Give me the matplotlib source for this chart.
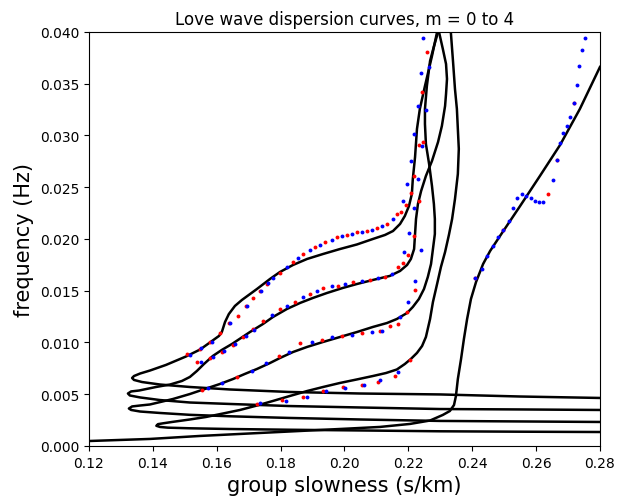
import matplotlib
matplotlib.use("Agg")
import matplotlib.pyplot as plt
import numpy as np

# Curvas de dispersion (lentitud de grupo s/km, frecuencia Hz), modos m = 0..4
s0 = [0.1200, 0.1391, 0.1548, 0.1704, 0.1861, 0.2017, 0.2111, 0.2205, 0.2268, 0.2308,
      0.2330, 0.2343, 0.2349, 0.2355, 0.2365, 0.2374, 0.2384, 0.2396, 0.2412, 0.2434,
      0.2456, 0.2487, 0.2550, 0.2612, 0.2675, 0.2737, 0.2800]
f0 = [0.00048, 0.00068, 0.00097, 0.00121, 0.00145, 0.00169, 0.00184, 0.00213, 0.00246, 0.00300,
      0.00338, 0.00396, 0.00483, 0.00647, 0.00840, 0.01034, 0.01227, 0.01420, 0.01585, 0.01758,
      0.01884, 0.02029, 0.02319, 0.02609, 0.02908, 0.03256, 0.03662]

s1 = [0.2800, 0.2550, 0.2299, 0.2049, 0.1826, 0.1641, 0.1516, 0.1447, 0.1422, 0.1411,
      0.1416, 0.1432, 0.1460, 0.1516, 0.1566, 0.1620, 0.1673, 0.1726, 0.1776, 0.1829,
      0.1883, 0.1933, 0.1986, 0.2039, 0.2089, 0.2130, 0.2164, 0.2189, 0.2208, 0.2227,
      0.2243, 0.2255, 0.2268, 0.2277, 0.2290, 0.2302, 0.2315, 0.2327, 0.2337, 0.2346,
      0.2355, 0.2358, 0.2355, 0.2352, 0.2346, 0.2340, 0.2333, 0.2330]
f1 = [0.00135, 0.00138, 0.00142, 0.00150, 0.00157, 0.00164, 0.00171, 0.00177, 0.00184, 0.00195,
      0.00211, 0.00219, 0.00232, 0.00256, 0.00280, 0.00314, 0.00348, 0.00391, 0.00435, 0.00483,
      0.00531, 0.00570, 0.00609, 0.00643, 0.00676, 0.00705, 0.00739, 0.00792, 0.00841, 0.00899,
      0.00966, 0.01053, 0.01227, 0.01391, 0.01565, 0.01729, 0.01874, 0.02039, 0.02193, 0.02386,
      0.02628, 0.02870, 0.03063, 0.03256, 0.03449, 0.03710, 0.04000, 0.04126]

s2 = [0.2800, 0.2550, 0.2299, 0.2049, 0.1826, 0.1641, 0.1516, 0.1422, 0.1360, 0.1332,
      0.1325, 0.1335, 0.1360, 0.1391, 0.1463, 0.1516, 0.1563, 0.1610, 0.1651, 0.1688,
      0.1726, 0.1767, 0.1798, 0.1839, 0.1883, 0.1933, 0.1986, 0.2039, 0.2089, 0.2133,
      0.2164, 0.2196, 0.2214, 0.2233, 0.2249, 0.2261, 0.2271, 0.2277, 0.2283, 0.2283,
      0.2280, 0.2274, 0.2265, 0.2255, 0.2252, 0.2252, 0.2258, 0.2268, 0.2280, 0.2293, 0.2299]
f2 = [0.00232, 0.00237, 0.00242, 0.00256, 0.00271, 0.00287, 0.00301, 0.00319, 0.00333, 0.00348,
      0.00362, 0.00382, 0.00391, 0.00401, 0.00454, 0.00502, 0.00551, 0.00599, 0.00647, 0.00696,
      0.00744, 0.00802, 0.00850, 0.00908, 0.00957, 0.01005, 0.01053, 0.01101, 0.01150, 0.01188,
      0.01227, 0.01285, 0.01343, 0.01420, 0.01517, 0.01633, 0.01758, 0.01903, 0.02048, 0.02193,
      0.02338, 0.02512, 0.02725, 0.02918, 0.03111, 0.03256, 0.03478, 0.03720, 0.03860, 0.04000, 0.04126]

s3 = [0.2800, 0.2550, 0.2299, 0.2049, 0.1826, 0.1641, 0.1516, 0.1422, 0.1360, 0.1328,
      0.1322, 0.1332, 0.1357, 0.1410, 0.1454, 0.1491, 0.1516, 0.1538, 0.1560, 0.1588,
      0.1616, 0.1648, 0.1704, 0.1745, 0.1776, 0.1820, 0.1861, 0.1901, 0.1945, 0.1995,
      0.2039, 0.2089, 0.2142, 0.2174, 0.2196, 0.2208, 0.2218, 0.2221, 0.2224, 0.2230,
      0.2240, 0.2255, 0.2274, 0.2293, 0.2305, 0.2315, 0.2318, 0.2321, 0.2318, 0.2308,
      0.2296, 0.2287]
f3 = [0.00348, 0.00353, 0.00357, 0.00372, 0.00386, 0.00406, 0.00420, 0.00444, 0.00469, 0.00488,
      0.00507, 0.00527, 0.00536, 0.00570, 0.00594, 0.00628, 0.00667, 0.00725, 0.00792, 0.00870,
      0.00928, 0.00986, 0.01101, 0.01179, 0.01246, 0.01324, 0.01382, 0.01430, 0.01478, 0.01527,
      0.01565, 0.01604, 0.01643, 0.01691, 0.01749, 0.01807, 0.01903, 0.02048, 0.02193, 0.02338,
      0.02464, 0.02609, 0.02754, 0.02937, 0.03092, 0.03285, 0.03401, 0.03546, 0.03691, 0.03836,
      0.04000, 0.04126]

s4 = [0.2800, 0.2550, 0.2299, 0.2049, 0.1826, 0.1641, 0.1516, 0.1422, 0.1366, 0.1341,
      0.1335, 0.1341, 0.1360, 0.1391, 0.1441, 0.1504, 0.1548, 0.1585, 0.1607, 0.1616,
      0.1626, 0.1638, 0.1657, 0.1679, 0.1726, 0.1767, 0.1798, 0.1839, 0.1883, 0.1933,
      0.1986, 0.2039, 0.2089, 0.2127, 0.2152, 0.2174, 0.2189, 0.2202, 0.2211, 0.2214,
      0.2221, 0.2227, 0.2236, 0.2252, 0.2274, 0.2290, 0.2299]
f4 = [0.00464, 0.00478, 0.00498, 0.00507, 0.00522, 0.00546, 0.00570, 0.00594, 0.00618, 0.00638,
      0.00657, 0.00676, 0.00700, 0.00729, 0.00783, 0.00865, 0.00932, 0.01014, 0.01063, 0.01101,
      0.01198, 0.01275, 0.01353, 0.01411, 0.01517, 0.01614, 0.01681, 0.01749, 0.01807, 0.01855,
      0.01903, 0.01947, 0.02000, 0.02039, 0.02077, 0.02145, 0.02222, 0.02319, 0.02435, 0.02580,
      0.02792, 0.03063, 0.03256, 0.03478, 0.03768, 0.04000, 0.04126]

# Observaciones (puntos rojos y azules)
red_s = [0.1507, 0.1548, 0.1579, 0.1610, 0.1638, 0.1667, 0.1692, 0.1713, 0.1735, 0.1757,
         0.1798, 0.1839, 0.1870, 0.1908, 0.1939, 0.1977, 0.2008, 0.2039, 0.2070, 0.2102,
         0.2133, 0.2164,
         0.2177, 0.2193, 0.2208, 0.2233, 0.2218, 0.2233, 0.2246, 0.2243, 0.2258,
         0.1538, 0.1579, 0.1616, 0.1651, 0.1682, 0.1713, 0.1745, 0.1798, 0.1845, 0.1892,
         0.1933, 0.1980, 0.2027, 0.2080, 0.2127, 0.2168, 0.2183, 0.2199, 0.2218,
         0.1554, 0.1663, 0.1795, 0.1861, 0.1930, 0.1992, 0.2055, 0.2111, 0.2142, 0.2168,
         0.2196, 0.2221,
         0.1726, 0.1804, 0.1870, 0.1933, 0.1995, 0.2055, 0.2105, 0.2158, 0.2205,
         0.2719, 0.2665, 0.2637, 0.2496, 0.2409]
red_f = [0.00889, 0.00937, 0.01005, 0.01092, 0.01188, 0.01256, 0.01353, 0.01430, 0.01498, 0.01565,
         0.01671, 0.01778, 0.01855, 0.01923, 0.01971, 0.02019, 0.02039, 0.02068, 0.02077, 0.02106,
         0.02145, 0.02242,
         0.02261, 0.02328, 0.02444, 0.02367, 0.02609, 0.02908, 0.02937, 0.03420, 0.03807,
         0.00812, 0.00850, 0.00908, 0.00976, 0.01053, 0.01130, 0.01208, 0.01324, 0.01391, 0.01469,
         0.01527, 0.01546, 0.01585, 0.01604, 0.01633, 0.01729, 0.01768, 0.01845, 0.02029,
         0.00541, 0.00667, 0.00870, 0.00995, 0.01024, 0.01063, 0.01092, 0.01111, 0.01159, 0.01179,
         0.01295, 0.01507,
         0.00406, 0.00444, 0.00473, 0.00531, 0.00570, 0.00589, 0.00618, 0.00676, 0.00831,
         0.03314, 0.02763, 0.02435, 0.02087, 0.01623]

blue_s = [0.1516, 0.1551, 0.1585, 0.1641, 0.1695, 0.1739, 0.1760, 0.1776, 0.1820, 0.1854,
          0.1892, 0.1923, 0.1961, 0.1992, 0.2023, 0.2055, 0.2086, 0.2117, 0.2152,
          0.2183, 0.2218, 0.2196, 0.2230, 0.2208, 0.2243, 0.2218, 0.2255, 0.2230, 0.2240,
          0.2265, 0.2246,
          0.1551, 0.1588, 0.1623, 0.1657, 0.1692, 0.1717, 0.1773, 0.1820, 0.1870, 0.1914,
          0.1961, 0.2002, 0.2055, 0.2105, 0.2149, 0.2186, 0.2202, 0.2240,
          0.1573, 0.1616, 0.1710, 0.1754, 0.1826, 0.1898, 0.1961, 0.2023, 0.2086, 0.2117,
          0.2174, 0.2199, 0.2221,
          0.1735, 0.1817, 0.1883, 0.1942, 0.2002, 0.2061, 0.2111, 0.2168,
          0.2753, 0.2744, 0.2734, 0.2728, 0.2719, 0.2706, 0.2697, 0.2684, 0.2675, 0.2665,
          0.2653, 0.2622, 0.2609, 0.2596, 0.2584, 0.2568, 0.2556, 0.2540, 0.2528, 0.2515,
          0.2496, 0.2481, 0.2465, 0.2446, 0.2431, 0.2409]
blue_f = [0.00879, 0.00947, 0.01005, 0.01188, 0.01353, 0.01498, 0.01575, 0.01623, 0.01729, 0.01816,
          0.01894, 0.01942, 0.01990, 0.02029, 0.02048, 0.02068, 0.02087, 0.02126, 0.02193,
          0.02367, 0.02300, 0.02531, 0.02580, 0.02754, 0.02899, 0.03014, 0.03246, 0.03285, 0.03604,
          0.03662, 0.03942,
          0.00812, 0.00860, 0.00918, 0.00986, 0.01063, 0.01121, 0.01266, 0.01353, 0.01440, 0.01498,
          0.01546, 0.01565, 0.01594, 0.01623, 0.01662, 0.01874, 0.02058, 0.01894,
          0.00560, 0.00609, 0.00725, 0.00802, 0.00908, 0.01005, 0.01053, 0.01072, 0.01101, 0.01111,
          0.01246, 0.01391, 0.01594,
          0.00415, 0.00435, 0.00473, 0.00531, 0.00560, 0.00589, 0.00638, 0.00715,
          0.03942, 0.03826, 0.03671, 0.03488, 0.03314, 0.03179, 0.03092, 0.03024, 0.02928, 0.02763,
          0.02570, 0.02357, 0.02357, 0.02367, 0.02396, 0.02415, 0.02435, 0.02396, 0.02300, 0.02174,
          0.02087, 0.02019, 0.01932, 0.01836, 0.01710, 0.01623]

fig = plt.figure(figsize=(6.17, 5.02), dpi=100)
ax = fig.add_axes([0.1442, 0.1096, 0.8282, 0.8247])

for s, f in [(s0, f0), (s1, f1), (s2, f2), (s3, f3), (s4, f4)]:
    ax.plot(s, f, color='black', lw=1.8)

ax.plot(red_s, red_f, 'o', color='red', ms=2.8, mew=0)
ax.plot(blue_s, blue_f, 'o', color='blue', ms=2.8, mew=0)

ax.set_xlim(0.12, 0.28)
ax.set_ylim(0, 0.04)
ax.set_xticks(np.arange(0.12, 0.2801, 0.02))
ax.set_yticks(np.arange(0, 0.0401, 0.005))
ax.xaxis.set_major_formatter(plt.FormatStrFormatter('%.2f'))
ax.yaxis.set_major_formatter(plt.FormatStrFormatter('%.3f'))
ax.tick_params(labelsize=10)
ax.set_xlabel("group slowness (s/km)", fontsize=15)
ax.set_ylabel("frequency (Hz)", fontsize=15)
ax.set_title("Love wave dispersion curves, m = 0 to 4", fontsize=12)

fig.savefig("out.png", dpi=100)
